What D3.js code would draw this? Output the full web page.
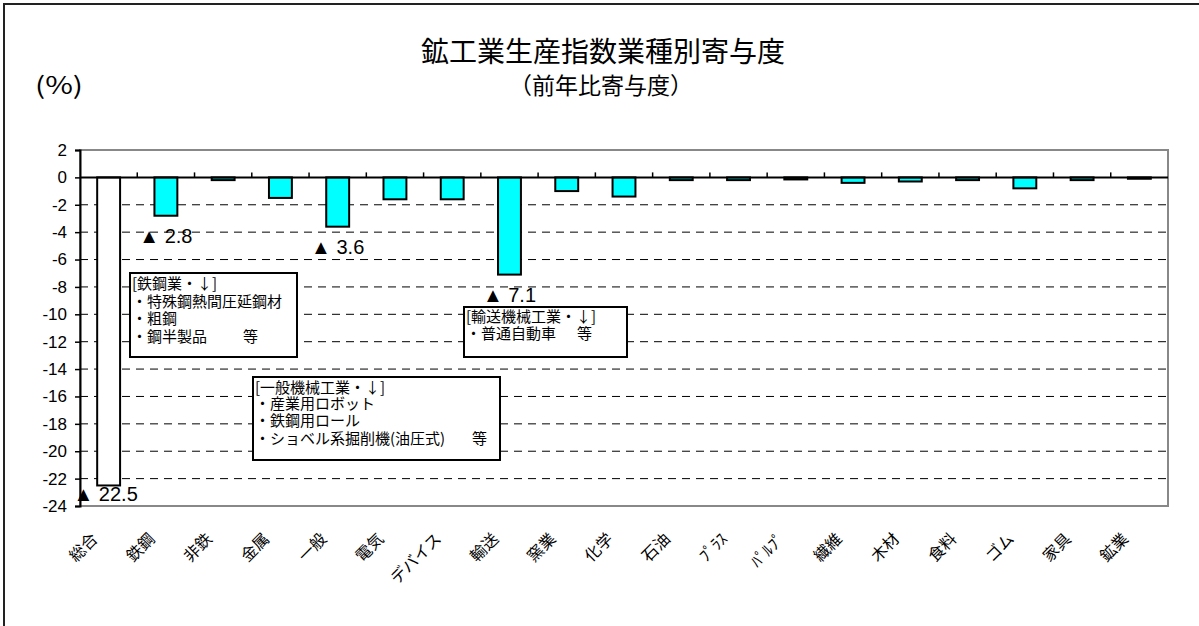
<!DOCTYPE html>
<html>
<head>
<meta charset="utf-8">
<script src="https://cdn.jsdelivr.net/npm/d3@7"></script>
<style>
body { margin: 0; background: #fff; }
svg { display: block; }
.jp { font-family: "Noto Sans CJK JP", sans-serif; }
.num { font-family: "Liberation Sans", "Noto Sans CJK JP", sans-serif; }
</style>
</head>
<body>
<svg width="1199" height="626"></svg>
<script>
// 業種（横軸ラベル）
var categories = ["総合", "鉄鋼", "非鉄", "金属", "一般", "電気", "デバイス", "輸送", "窯業", "化学",
  "石油", "ﾌﾟﾗｽ", "ﾊﾟﾙﾌﾟ", "繊維", "木材", "食料", "ゴム", "家具", "鉱業"];

// 前年比寄与度（%）
var values = [-22.5, -2.8, -0.2, -1.5, -3.6, -1.6, -1.6, -7.1, -1.0, -1.4,
  -0.2, -0.2, -0.15, -0.4, -0.3, -0.2, -0.8, -0.2, -0.1];

var yTicks = [2, 0, -2, -4, -6, -8, -10, -12, -14, -16, -18, -20, -22, -24];

// ▲ラベルを付ける業種
var marked = ["総合", "鉄鋼", "一般", "輸送"];

// 注記ボックスの中身
var steelNote = ["[鉄鋼業・↓]", "・特殊鋼熱間圧延鋼材", "・粗鋼", "・鋼半製品"];
var machineNote = ["[一般機械工業・↓]", "・産業用ロボット", "・鉄鋼用ロール", "・ショベル系掘削機(油圧式)"];
var transportNote = ["[輸送機械工業・↓]", "・普通自動車"];

var data = categories.map(function(c, i) { return { cat: c, value: values[i] }; });

var svg = d3.select("svg"),
  plot = { left: 80, right: 1168, top: 150, bottom: 506 };

// 外枠（左と上のみ見える）
svg.append("line").attr("x1", 4).attr("x2", 4).attr("y1", 3).attr("y2", 626)
  .attr("stroke", "#222").attr("stroke-width", 2);
svg.append("line").attr("x1", 3).attr("x2", 1199).attr("y1", 4).attr("y2", 4)
  .attr("stroke", "#222").attr("stroke-width", 2);

// タイトル
svg.append("text").attr("class", "jp")
  .attr("x", 603).attr("y", 62).attr("text-anchor", "middle")
  .attr("font-size", 28).text("鉱工業生産指数業種別寄与度");
svg.append("text").attr("class", "jp")
  .attr("x", 601).attr("y", 94).attr("text-anchor", "middle")
  .attr("font-size", 23).text("（前年比寄与度）");
svg.append("text").attr("class", "jp")
  .attr("x", 35).attr("y", 94)
  .attr("textLength", 48).attr("lengthAdjust", "spacingAndGlyphs")
  .attr("font-size", 24).text("(%)");

var x = d3.scaleBand().domain(categories)
  .range([plot.left, plot.right]).paddingInner(0.6).paddingOuter(0.3);
var y = d3.scaleLinear().domain([-24, 2]).range([plot.bottom, plot.top]);
var step = x.step();
function cx(c) { return x(c) + x.bandwidth() / 2; }

// 点線のグリッド
svg.append("g").selectAll("line")
  .data(yTicks.filter(function(t) { return t < 0 && t > -24; }))
  .enter().append("line")
  .attr("x1", plot.left).attr("x2", plot.right)
  .attr("y1", function(d) { return y(d); }).attr("y2", function(d) { return y(d); })
  .attr("stroke", "#000").attr("stroke-width", 1).attr("stroke-dasharray", "8,6");

// プロット枠
svg.append("rect")
  .attr("x", plot.left).attr("y", plot.top)
  .attr("width", plot.right - plot.left).attr("height", plot.bottom - plot.top)
  .attr("fill", "none").attr("stroke", "#888").attr("stroke-width", 2);

// 縦軸
var yAxis = svg.append("g")
  .attr("transform", "translate(" + plot.left + ",0)")
  .call(d3.axisLeft(y).tickValues(yTicks).tickSize(5).tickPadding(8)
    .tickFormat(function(d) { return d; }));
yAxis.select(".domain").attr("stroke", "#000").attr("stroke-width", 2);
yAxis.selectAll(".tick line").attr("stroke", "#000").attr("stroke-width", 1.5);
yAxis.selectAll(".tick text").attr("class", "num").attr("font-size", 17).attr("fill", "#000");

// 棒
svg.append("g").selectAll("rect")
  .data(data).enter().append("rect")
  .attr("x", function(d) { return x(d.cat); })
  .attr("width", x.bandwidth())
  .attr("y", function(d) { return y(Math.max(0, d.value)); })
  .attr("height", function(d) { return Math.abs(y(d.value) - y(0)); })
  .attr("fill", function(d, i) { return i === 0 ? "#fff" : "#00ffff"; })
  .attr("stroke", "#000").attr("stroke-width", 2);

// ゼロ線と目盛
svg.append("line")
  .attr("x1", plot.left).attr("x2", plot.right)
  .attr("y1", y(0)).attr("y2", y(0))
  .attr("stroke", "#000").attr("stroke-width", 2);
svg.append("g").selectAll("line")
  .data(categories.slice(1)).enter().append("line")
  .attr("x1", function(d) { return x(d) - (step - x.bandwidth()) / 2; })
  .attr("x2", function(d) { return x(d) - (step - x.bandwidth()) / 2; })
  .attr("y1", y(0)).attr("y2", y(0) - 5)
  .attr("stroke", "#000").attr("stroke-width", 1.5);

// 横軸ラベル
svg.append("g").selectAll("text")
  .data(categories).enter().append("text")
  .attr("class", "jp")
  .attr("font-size", 16)
  .attr("text-anchor", "end")
  .attr("transform", function(d) {
    return "translate(" + (cx(d) - 10) + "," + (plot.bottom + 34) + ") rotate(-45)";
  })
  .text(function(d) { return d; });

// ▲ラベル
svg.append("g").selectAll("text")
  .data(data.filter(function(d) { return marked.indexOf(d.cat) >= 0; }))
  .enter().append("text")
  .attr("class", "num")
  .attr("font-size", 20)
  .attr("text-anchor", "middle")
  .attr("x", function(d, i) { return cx(d.cat) + (i === 0 ? -3 : 0); })
  .attr("y", function(d, i) { return y(d.value) + (i === 0 ? 16 : 27); })
  .text(function(d) { return "▲ " + Math.abs(d.value); });

// 注記ボックス（1つのtextに行ごとのtspan）
function noteBox(lines, x0, y0, w, h, lineY, tailX) {
  var g = svg.append("g");
  g.append("rect").attr("x", x0).attr("y", y0).attr("width", w).attr("height", h)
    .attr("fill", "#fff").attr("stroke", "#000").attr("stroke-width", 2);
  var t = g.append("text").attr("class", "jp").attr("font-size", 15);
  lines.forEach(function(line, i) {
    t.append("tspan").attr("x", x0 + 2).attr("y", y0 + lineY[i]).text(line);
  });
  t.append("tspan").attr("x", tailX).attr("y", y0 + lineY[lines.length - 1]).text("等");
}
noteBox(steelNote, 130, 273, 167, 84, [16, 34, 51, 69], 243);
noteBox(machineNote, 253, 377, 247, 83, [16, 32, 49, 67], 472);
noteBox(transportNote, 464, 307, 163, 50, [15, 32], 577);
</script>
</body>
</html>
